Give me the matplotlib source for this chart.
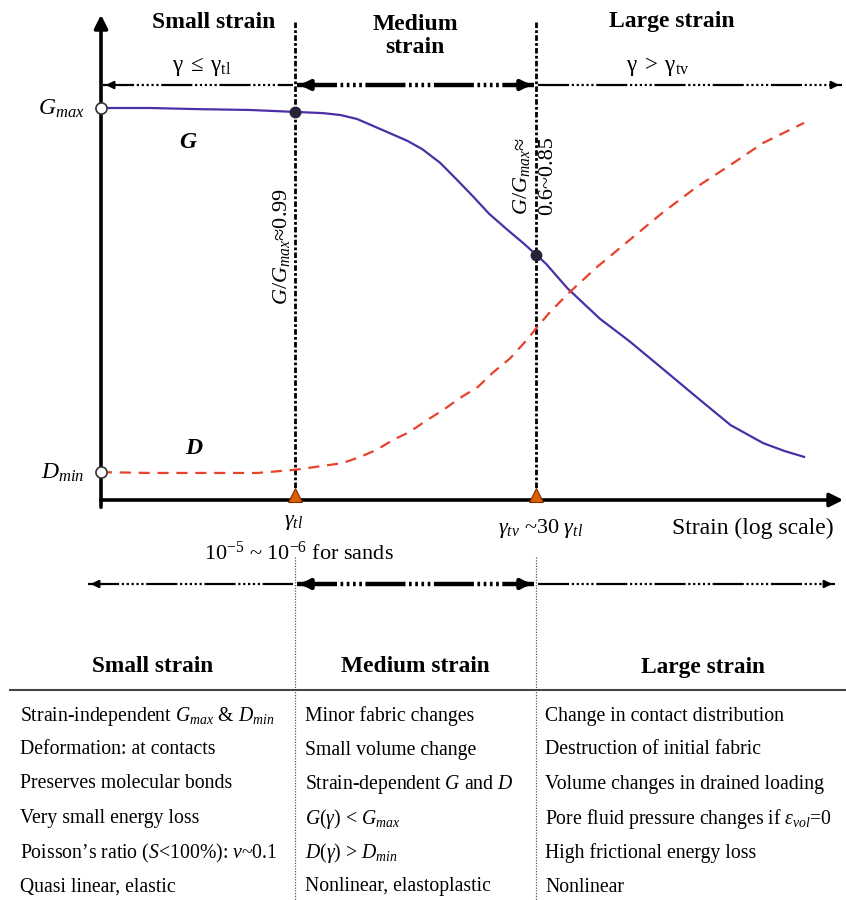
import numpy as np
import matplotlib.pyplot as plt

plt.rcParams['font.family'] = ['Liberation Serif', 'DejaVu Serif']
plt.rcParams['mathtext.fontset'] = 'custom'
plt.rcParams['mathtext.rm'] = 'Liberation Serif'
plt.rcParams['mathtext.it'] = 'Liberation Serif:italic'
plt.rcParams['mathtext.bf'] = 'Liberation Serif:bold'

# ---- data: log10(strain) and normalised G/Gmax, D ----
log_gamma_tl = -5.0
log_gamma_tv = log_gamma_tl + np.log10(30)

log_strain_G = [-6.19, -5.89, -5.58, -5.28, -5.00, -4.83, -4.72, -4.62, -4.52,
                -4.42, -4.31, -4.22, -4.11, -4.01, -3.91, -3.81, -3.70, -3.60,
                -3.52, -3.46, -3.33, -3.13, -2.95, -2.75, -2.54, -2.33, -2.13,
                -2.00, -1.88]
G_norm = [1.000, 1.000, 0.997, 0.995, 0.990, 0.987, 0.982, 0.972, 0.954,
          0.936, 0.916, 0.895, 0.860, 0.818, 0.775, 0.730, 0.690, 0.655,
          0.625, 0.602, 0.540, 0.462, 0.405, 0.336, 0.263, 0.191, 0.145,
          0.125, 0.110]

log_strain_D = [-6.19, -5.89, -5.58, -5.23, -5.00, -4.83, -4.71, -4.60, -4.50,
                -4.40, -4.30, -4.19, -4.09, -3.99, -3.88, -3.79, -3.68, -3.58,
                -3.52, -3.44, -3.33, -3.15, -2.95, -2.75, -2.54, -2.33, -2.13,
                -1.88]
D_norm = [0.071, 0.069, 0.069, 0.069, 0.077, 0.087, 0.094, 0.110, 0.128,
          0.153, 0.173, 0.204, 0.230, 0.260, 0.288, 0.324, 0.362, 0.408,
          0.439, 0.478, 0.525, 0.594, 0.663, 0.732, 0.798, 0.855, 0.911,
          0.962]

mark_strain = [log_gamma_tl, log_gamma_tv]
mark_G = [0.990, 0.625]

zones = ['Small strain', 'Medium strain', 'Large strain']
small_rows = [r'Strain-independent $G_{max}$ & $D_{min}$',
              'Deformation: at contacts',
              'Preserves molecular bonds',
              'Very small energy loss',
              r"Poisson’s ratio ($S$<100%): $\nu$~0.1",
              'Quasi linear, elastic']
medium_rows = ['Minor fabric changes',
               'Small volume change',
               r'Strain-dependent $G$ and $D$',
               r'$G(\gamma)$ < $G_{max}$',
               r'$D(\gamma)$ > $D_{min}$',
               'Nonlinear, elastoplastic']
large_rows = ['Change in contact distribution',
              'Destruction of initial fabric',
              'Volume changes in drained loading',
              r'Pore fluid pressure changes if $\varepsilon_{vol}$=0',
              'High frictional energy loss',
              'Nonlinear']

G_COL = '#4b2fa6'
D_COL = '#e8412c'
TRI_COL = '#e05c00'

fig = plt.figure(figsize=(8.46, 9.0), dpi=100)

# pixel-space axes for the sketch decorations
pax = fig.add_axes([0, 0, 1, 1])
pax.set_xlim(0, 846)
pax.set_ylim(900, 0)
pax.axis('off')

# strain axes: gamma_tl at x=295 px, gamma_tv at x=536 px, G=1 at y=108 px, 0 at y=500 px
ppd = (536 - 295) / (log_gamma_tv - log_gamma_tl)
cax = fig.add_axes([0, 0, 1, 1])
cax.set_xlim(log_gamma_tl - 295 / ppd, log_gamma_tl + (846 - 295) / ppd)
cax.set_ylim(-400 / 392, 500 / 392)
cax.axis('off')
cax.patch.set_alpha(0)


def to_px(lx):
    return pax.transData.inverted().transform(cax.transData.transform((lx, 0)))[0]


x_tl = to_px(log_gamma_tl)
x_tv = to_px(log_gamma_tv)

# main axes arrows
pax.annotate('', xy=(101, 12), xytext=(101, 510),
             arrowprops=dict(arrowstyle='-|>', lw=2.6, color='k', mutation_scale=20))
pax.annotate('', xy=(846, 500), xytext=(98, 500),
             arrowprops=dict(arrowstyle='-|>', lw=2.6, color='k', mutation_scale=20))

# zone boundaries
for xb in (x_tl, x_tv):
    pax.plot([xb, xb], [22, 497], color='k', lw=2.0, ls=(0, (2, 0.8, 1, 0.8)), zorder=2)
    pax.plot([xb, xb], [557, 900], color='#555555', lw=0.9, ls=(0, (1, 1.2)), zorder=2)

# curves
cax.plot(log_strain_G, G_norm, color=G_COL, lw=1.6, zorder=3)
cax.plot(log_strain_D, D_norm, color=D_COL, lw=1.6, ls=(0, (5, 3.5)), zorder=3)
cax.plot(log_strain_G[0], G_norm[0], 'o', ms=8, mfc='white', mec='#333333', mew=1.2, zorder=5)
cax.plot(log_strain_D[0], D_norm[0], 'o', ms=8, mfc='white', mec='#333333', mew=1.2, zorder=5)
cax.plot(mark_strain, mark_G, 'o', ms=7.5, color='#25253a', zorder=5)
cax.plot(mark_strain, [0.012, 0.012], '^', ms=10, color=TRI_COL, mec='#7a3300',
         mew=0.8, zorder=6)


# span arrows
def span(y, x0, x1, lw, ls, head_left=False, head_right=False, ms=14):
    pax.plot([x0, x1], [y, y], color='k', lw=lw, ls=ls, solid_capstyle='butt', zorder=4)
    if head_left:
        pax.annotate('', xy=(x0, y), xytext=(x0 + 12, y),
                     arrowprops=dict(arrowstyle='-|>', lw=lw, color='k', mutation_scale=ms))
    if head_right:
        pax.annotate('', xy=(x1, y), xytext=(x1 - 12, y),
                     arrowprops=dict(arrowstyle='-|>', lw=lw, color='k', mutation_scale=ms))


thin = (0, (14, 1.2, 1, 1.2, 1, 1.2, 1, 1.2, 1, 1.2, 1, 1.2))
thick = (0, (9, 0.8, 0.6, 0.8, 0.6, 0.8, 0.6, 0.8, 0.6, 0.8))
for y, left in ((85, 103), (584, 88)):
    span(y, left, x_tl - 2, 1.6, thin, head_left=True, ms=11)
    span(y, x_tl + 2, x_tv - 2, 3.2, thick, head_left=True, head_right=True, ms=14)
    span(y, x_tv + 2, 842 if y == 85 else 835, 1.6, thin, head_right=True, ms=11)

# headings
pax.text(214, 22, 'Small strain', fontsize=17, fontweight='bold', ha='center', va='center')
pax.text(415, 36, 'Medium\nstrain', fontsize=17, fontweight='bold', ha='center', va='center',
         linespacing=1.15)
pax.text(672, 22, 'Large strain', fontsize=17, fontweight='bold', ha='center', va='center')
pax.text(202, 67, r'$\mathrm{\gamma}\;\leq\;\mathrm{\gamma}_{\mathrm{tl}}$', fontsize=16.5,
         ha='center', va='center')
pax.text(658, 67, r'$\mathrm{\gamma}\;>\;\mathrm{\gamma}_{\mathrm{tv}}$', fontsize=16.5,
         ha='center', va='center')

# curve labels
pax.text(84, 109, r'$G_{max}$', fontsize=17, ha='right', va='center')
pax.text(84, 473, r'$D_{min}$', fontsize=17, ha='right', va='center')
pax.text(188, 143, 'G', fontsize=17, fontweight='bold', style='italic',
         ha='center', va='center')
pax.text(194, 449, 'D', fontsize=17, fontweight='bold', style='italic',
         ha='center', va='center')
pax.text(281, 247, r'$G/G_{max}$≈0.99', fontsize=16, rotation=90, ha='center', va='center')
pax.text(521, 176, r'$G/G_{max}$≈', fontsize=16, rotation=90, ha='center', va='center')
pax.text(548, 176, '0.6~0.85', fontsize=16, rotation=90, ha='center', va='center')

# x-axis labels
pax.text(294, 523, r'$\gamma_{tl}$', fontsize=16, ha='center', va='center')
pax.text(299, 553, r'10$^{-5}$ ~ 10$^{-6}$ for sands', fontsize=16, ha='center', va='center')
pax.text(540, 528, r'$\gamma_{tv}$ ~30 $\gamma_{tl}$', fontsize=16, ha='center', va='center')
pax.text(834, 528, 'Strain (log scale)', fontsize=17, ha='right', va='center')

# table
pax.plot([10, 846], [690, 690], color='#444444', lw=1.5)
for xc, name in zip((153, 415, 703), zones):
    pax.text(xc, 667, name, fontsize=16.8, fontweight='bold', ha='center', va='center')
row_y = [716, 750, 784, 819, 853, 887]
for xs, rows in ((20, small_rows), (305, medium_rows), (545, large_rows)):
    for y, txt in zip(row_y, rows):
        pax.text(xs, y, txt, fontsize=14.2, ha='left', va='center')

fig.savefig('out.png', dpi=100)
